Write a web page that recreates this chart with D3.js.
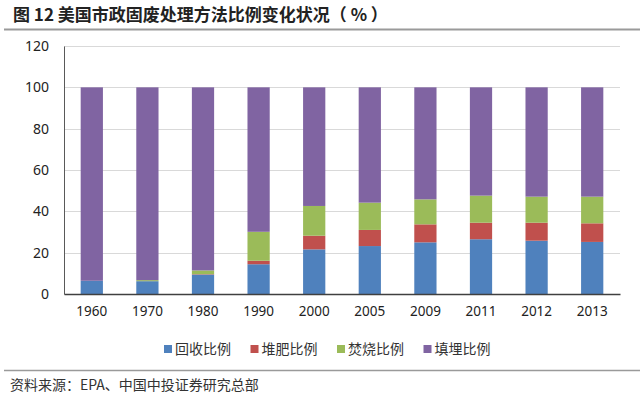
<!DOCTYPE html>
<html>
<head>
<meta charset="utf-8">
<script src="https://cdn.jsdelivr.net/npm/d3@7"></script>
<style>
  body { margin: 0; background: #fff; }
  text { font-family: "Noto Sans CJK SC", "Noto Sans", sans-serif; }
</style>
</head>
<body>
<div id="chart"></div>
<script>
// data (%)
var years = ["1960", "1970", "1980", "1990", "2000", "2005", "2009", "2011", "2012", "2013"];
var recycled = [6.4, 6.2, 9.4, 14.4, 21.6, 23.2, 25.0, 26.5, 25.8, 25.2];
var composted = [0, 0, 0.2, 1.7, 6.6, 7.8, 8.7, 8.0, 8.7, 9.0];
var burned = [0, 0.5, 1.8, 14.0, 14.4, 13.2, 12.1, 13.1, 12.6, 12.9];
var landfill = [93.6, 93.3, 88.6, 69.9, 57.4, 55.8, 54.2, 52.4, 52.9, 52.9];
var seriesNames = ["回收比例", "堆肥比例", "焚烧比例", "填埋比例"];
var yTicks = [0, 20, 40, 60, 80, 100, 120];

var colors = ["#4F81BD", "#C0504D", "#9BBB59", "#8064A2"];

var svgWidth = 640, svgHeight = 399;
var margin = { top: 46, right: 20, bottom: 105, left: 64 };
var width = svgWidth - margin.left - margin.right;
var height = svgHeight - margin.top - margin.bottom;

var svg = d3.select("#chart").append("svg")
  .attr("width", svgWidth)
  .attr("height", svgHeight);

// title and separators
svg.append("text")
  .attr("x", 13)
  .attr("y", 21)
  .attr("font-size", "17px")
  .attr("font-weight", "bold")
  .attr("fill", "#222")
  .style("white-space", "pre")
  .text("图 12 美国市政固废处理方法比例变化状况（ % ）");

svg.append("line")
  .attr("x1", 4).attr("x2", 640)
  .attr("y1", 29.5).attr("y2", 29.5)
  .attr("stroke", "#9a9a9a")
  .attr("stroke-width", 2);

svg.append("line")
  .attr("x1", 4).attr("x2", 640)
  .attr("y1", 370.5).attr("y2", 370.5)
  .attr("stroke", "#9a9a9a")
  .attr("stroke-width", 1.5);

svg.append("text")
  .attr("x", 10)
  .attr("y", 390)
  .attr("font-size", "14px")
  .attr("fill", "#333")
  .text("资料来源：EPA、中国中投证券研究总部");

var chartGroup = svg.append("g")
  .attr("transform", `translate(${margin.left}, ${margin.top})`);

var x = d3.scaleBand()
  .domain(years)
  .range([0, width])
  .paddingInner(0.6)
  .paddingOuter(0.3);

var y = d3.scaleLinear()
  .domain([0, 120])
  .range([height, 0]);

// gridlines
chartGroup.append("g")
  .selectAll("line")
  .data(yTicks.slice(1))
  .enter()
  .append("line")
  .attr("x1", 0)
  .attr("x2", width)
  .attr("y1", d => Math.round(y(d)) + 0.5)
  .attr("y2", d => Math.round(y(d)) + 0.5)
  .attr("stroke", "#d9d9d9");

// stacked bars
var rows = years.map(function(yr, i) {
  return { year: yr, s0: recycled[i], s1: composted[i], s2: burned[i], s3: landfill[i] };
});
var stack = d3.stack().keys(["s0", "s1", "s2", "s3"]);
var layers = stack(rows);

chartGroup.selectAll(".layer")
  .data(layers)
  .enter()
  .append("g")
  .attr("fill", (d, i) => colors[i])
  .selectAll("rect")
  .data(d => d)
  .enter()
  .append("rect")
  .attr("x", d => x(d.data.year))
  .attr("width", x.bandwidth())
  .attr("y", d => y(d[1]))
  .attr("height", d => y(d[0]) - y(d[1]));

// axes
var leftAxis = d3.axisLeft(y).tickValues(yTicks).tickSize(0).tickPadding(15);
var yAxis = chartGroup.append("g").call(leftAxis);
yAxis.select(".domain").attr("stroke", "#595959");
yAxis.selectAll("text")
  .attr("font-size", "14px")
  .attr("fill", "#222")
  .style("font-family", "'Noto Sans', sans-serif");

var bottomAxis = d3.axisBottom(x).tickSize(0).tickPadding(12);
var xAxis = chartGroup.append("g")
  .attr("transform", `translate(0, ${height})`)
  .call(bottomAxis);
xAxis.select(".domain").attr("stroke", "#404040").attr("stroke-width", 1.5);
xAxis.selectAll("text")
  .attr("font-size", "13.5px")
  .attr("fill", "#222")
  .style("font-family", "'Noto Sans', sans-serif");

// legend
var legend = svg.append("g")
  .attr("transform", "translate(164, 349)");

var items = legend.selectAll("g")
  .data(seriesNames)
  .enter()
  .append("g")
  .attr("transform", (d, i) => `translate(${i * 86.5}, 0)`);

items.append("rect")
  .attr("x", 0)
  .attr("y", -4)
  .attr("width", 8)
  .attr("height", 8)
  .attr("fill", (d, i) => colors[i]);

items.append("text")
  .attr("x", 11)
  .attr("y", 0)
  .attr("dy", "0.36em")
  .attr("font-size", "14px")
  .attr("fill", "#333")
  .text(d => d);
</script>
</body>
</html>
